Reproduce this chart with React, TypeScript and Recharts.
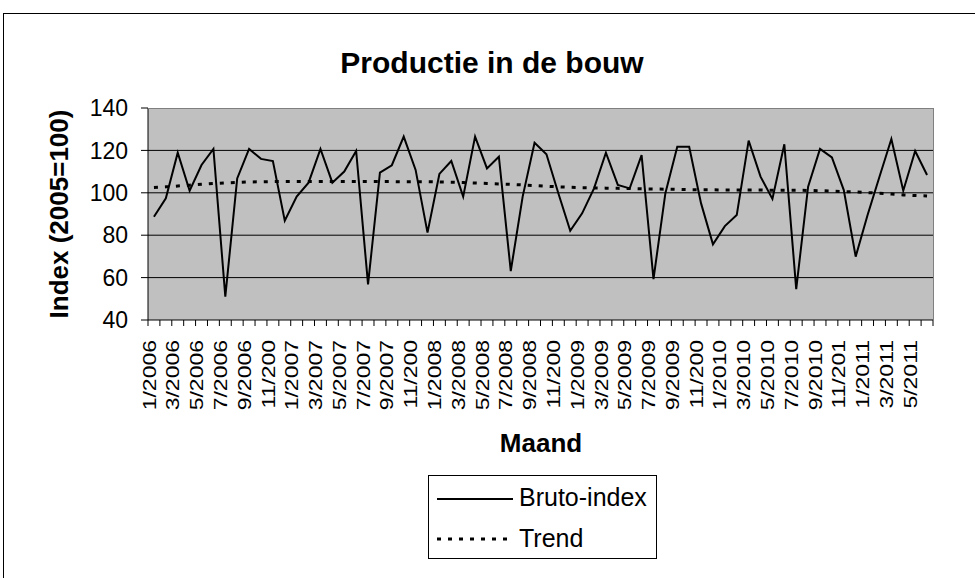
import { LineChart, Line, XAxis, YAxis, CartesianGrid, Legend, Label } from 'recharts';

// monthly categories, 1/2006 .. 6/2011
const months = [
  '1/2006', '2/2006', '3/2006', '4/2006', '5/2006', '6/2006', '7/2006', '8/2006', '9/2006', '10/2006', '11/2006', '12/2006',
  '1/2007', '2/2007', '3/2007', '4/2007', '5/2007', '6/2007', '7/2007', '8/2007', '9/2007', '10/2007', '11/2007', '12/2007',
  '1/2008', '2/2008', '3/2008', '4/2008', '5/2008', '6/2008', '7/2008', '8/2008', '9/2008', '10/2008', '11/2008', '12/2008',
  '1/2009', '2/2009', '3/2009', '4/2009', '5/2009', '6/2009', '7/2009', '8/2009', '9/2009', '10/2009', '11/2009', '12/2009',
  '1/2010', '2/2010', '3/2010', '4/2010', '5/2010', '6/2010', '7/2010', '8/2010', '9/2010', '10/2010', '11/2010', '12/2010',
  '1/2011', '2/2011', '3/2011', '4/2011', '5/2011', '6/2011',
];

const bruto = [
  88.7, 97.4, 118.9, 101, 113.1, 120.7, 51, 106.8, 120.7, 116, 115, 86.8,
  98.2, 104.8, 120.7, 104.8, 110, 119.7, 56.8, 109.5, 113, 126.5, 110.8, 81.2,
  108.9, 115, 98.2, 126.5, 111.5, 117, 63.1, 98.2, 123.6, 118.2, 99.8, 82.1,
  90.3, 102.1, 118.9, 103.7, 102.1, 117.8, 59.3, 99.8, 121.7, 121.7, 95, 75.7,
  84.3, 89.5, 124.6, 107.6, 97.1, 122.9, 54.6, 102.9, 120.7, 116.7, 101.3, 69.9,
  89.5, 107.6, 125.4, 101, 119.7, 108.4,
];

const trend = [
  102.5, 102.8, 103.2, 103.6, 104.0, 104.4, 104.7, 104.9, 105.1, 105.2, 105.3, 105.3,
  105.3, 105.3, 105.3, 105.3, 105.3, 105.3, 105.3, 105.3, 105.3, 105.2, 105.2, 105.2,
  105.1, 105.0, 104.8, 104.6, 104.4, 104.2, 104.0, 103.7, 103.4, 103.1, 102.8, 102.6,
  102.4, 102.3, 102.2, 102.1, 102.0, 101.9, 101.8, 101.7, 101.6, 101.5, 101.4, 101.4,
  101.3, 101.3, 101.3, 101.3, 101.2, 101.2, 101.2, 101.1, 101.0, 100.8, 100.6, 100.4,
  100.1, 99.8, 99.4, 99.0, 98.7, 98.5,
];

const yTicks = [40, 60, 80, 100, 120, 140];

const data = months.map((m, i) => ({ month: m, bruto: bruto[i], trend: trend[i] }));

const W = 975;
const H = 578;
const LEFT = 148;
const RIGHT = 42;
const TOP = 108;
const XAXIS_H = 258;
const BAND = (W - LEFT - RIGHT) / months.length;
const FONT = '"Liberation Sans", Arial, sans-serif';

function MonthTick(props: any) {
  const { x, y, payload, index } = props;
  const axisY = y - 6;
  const i = payload?.index ?? index;
  const half = BAND / 2;
  return (
    <g>
      <line x1={x - half} x2={x - half} y1={axisY} y2={axisY + 6} stroke="#000" />
      {i === months.length - 1 && <line x1={x + half} x2={x + half} y1={axisY} y2={axisY + 6} stroke="#000" />}
      {i % 2 === 0 && (
        <g transform={`translate(${x - 5},${axisY + 20}) rotate(-90)`}>
          <text
            textAnchor="end"
            dominantBaseline="central"
            transform="scale(1,0.8)"
            fontSize={23}
            fontFamily={FONT}
            fill="#000"
          >
            {String(payload.value).slice(0, 6)}
          </text>
        </g>
      )}
    </g>
  );
}

function LegendBox(props: any) {
  const items = props.payload || [];
  return (
    <svg width={229} height={84} style={{ display: 'block' }}>
      <rect x={0.5} y={0.5} width={228} height={83} fill="#fff" stroke="#000" />
      {items.map((it: any, k: number) => (
        <g key={it.value}>
          <line
            x1={9}
            x2={85}
            y1={24 + k * 40}
            y2={24 + k * 40}
            stroke="#000"
            strokeWidth={k === 0 ? 2 : 3}
            strokeDasharray={k === 0 ? undefined : '4 7'}
          />
          <text x={91} y={31 + k * 41} fontSize={25} fontFamily={FONT} fill="#000">
            {it.value}
          </text>
        </g>
      ))}
    </svg>
  );
}

export default function App() {
  return (
    <div style={{ position: 'absolute', left: 0, top: 0, width: W, height: H, overflow: 'hidden', background: '#fff', fontFamily: FONT }}>
      <div style={{ position: 'absolute', left: 3, top: 13, width: W, height: H, borderTop: '1px solid #000', borderLeft: '1px solid #000' }} />
      <div
        style={{
          position: 'absolute',
          left: 0,
          top: 48,
          width: 984,
          textAlign: 'center',
          fontSize: 30,
          lineHeight: '30px',
          fontWeight: 'bold',
          color: '#000',
        }}
      >
        Productie in de bouw
      </div>
      <div style={{ position: 'absolute', left: 0, top: 0 }}>
        <LineChart width={W} height={H} data={data} margin={{ top: TOP, right: RIGHT, left: 0, bottom: 0 }}>
          <CartesianGrid
            vertical={false}
            horizontalValues={[60, 80, 100, 120]}
            stroke="#000"
            fill="#c0c0c0"
            fillOpacity={1}
          />
          <XAxis
            dataKey="month"
            scale="band"
            interval={0}
            height={XAXIS_H}
            tickLine={false}
            tickSize={6}
            tickMargin={0}
            axisLine={{ stroke: '#000' }}
            tick={<MonthTick />}
          >
            <Label
              content={() => (
                <text x={541} y={452} textAnchor="middle" fontSize={26} fontWeight="bold" fontFamily={FONT} fill="#000">
                  Maand
                </text>
              )}
            />
          </XAxis>
          <YAxis
            width={LEFT}
            domain={[40, 140]}
            ticks={yTicks}
            interval={0}
            tickSize={7}
            tickMargin={13}
            axisLine={{ stroke: '#000' }}
            tickLine={{ stroke: '#000' }}
            tick={{ fontSize: 23, fill: '#000', fontFamily: FONT }}
          >
            <Label
              content={() => (
                <text
                  x={59}
                  y={214}
                  transform="rotate(-90 59 214)"
                  textAnchor="middle"
                  dominantBaseline="central"
                  fontSize={26}
                  fontWeight="bold"
                  fontFamily={FONT}
                  fill="#000"
                >
                  Index (2005=100)
                </text>
              )}
            />
          </YAxis>
          <Legend
            layout="horizontal"
            verticalAlign="middle"
            align="center"
            wrapperStyle={{ left: 428, top: 475, width: 229, height: 84 }}
            content={<LegendBox />}
          />
          <Line
            name="Bruto-index"
            dataKey="bruto"
            type="linear"
            stroke="#000"
            strokeWidth={2}
            dot={false}
            isAnimationActive={false}
          />
          <Line
            name="Trend"
            dataKey="trend"
            type="linear"
            stroke="#000"
            strokeWidth={3}
            strokeDasharray="4 7"
            dot={false}
            isAnimationActive={false}
          />
        </LineChart>
      </div>
      <div
        style={{
          position: 'absolute',
          left: LEFT,
          top: TOP,
          width: W - LEFT - RIGHT,
          height: 1,
          borderTop: '1px solid #808080',
          pointerEvents: 'none',
        }}
      />
      <div
        style={{
          position: 'absolute',
          left: W - RIGHT,
          top: TOP,
          width: 1,
          height: H - TOP - XAXIS_H,
          background: '#808080',
          pointerEvents: 'none',
        }}
      />
    </div>
  );
}
